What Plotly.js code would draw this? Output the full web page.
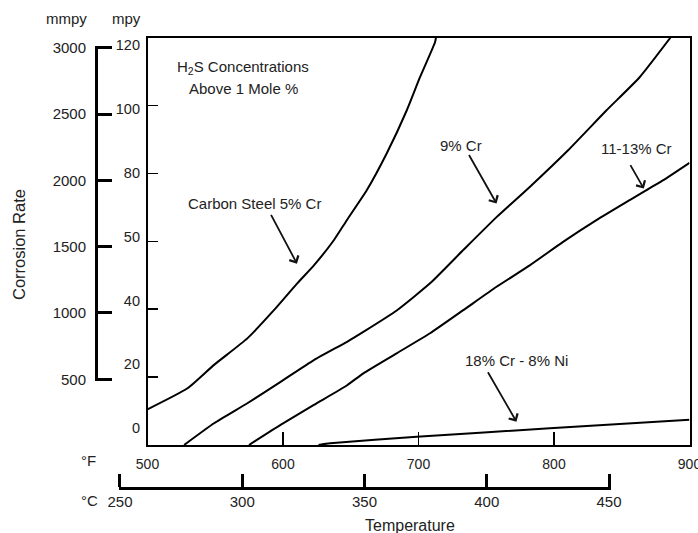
<!DOCTYPE html>
<html>
<head>
<meta charset="utf-8">
<script src="https://cdn.plot.ly/plotly-3.0.1.min.js"></script>
<style>html,body{margin:0;padding:0;background:#fff;}#chart{width:698px;height:533px;}</style>
</head>
<body>
<div id="chart"></div>
<script>
// ---- Tick labels / axis values ----
const tempFTicks = [500, 600, 700, 800, 900];
const tempCTicks = [250, 300, 350, 400, 450];
const mmpyTicks = [500, 1000, 1500, 2000, 2500, 3000];
const mpyTicks = [0, 20, 40, 60, 80, 100, 120];
const mpyTickText = ['0', '20', '40', '50', '80', '100', '120'];

// ---- Series (temperature °F, corrosion rate mpy) ----
const csF   = [500, 529.5, 549.1, 573.7, 593.3, 610.5, 622.8, 637.5, 647.1, 661.8, 676.6, 691.3, 701.1, 712.2, 712.9];
const csMpy = [10.5, 16.7, 23.6, 31.4, 39.7, 47.6, 52.9, 60.3, 66.2, 75.0, 85.9, 98.5, 108.3, 118.6, 120];

const cr9F   = [527.0, 549.1, 573.7, 598.2, 622.8, 647.3, 659.3, 683.9, 708.5, 733.0, 757.6, 782.1, 810.4, 838.6, 863.2, 886.0];
const cr9Mpy = [0, 6.4, 12.3, 18.6, 25.0, 30.4, 33.3, 39.6, 47.6, 57.4, 67.1, 76.0, 86.8, 98.5, 108.3, 120];

const cr11F   = [574.9, 598.2, 622.8, 647.3, 659.3, 683.9, 708.5, 733.0, 757.6, 782.1, 806.7, 831.3, 855.8, 880.3, 900];
const cr11Mpy = [0, 5.9, 11.8, 17.6, 21.1, 27.0, 32.9, 39.7, 46.6, 52.9, 59.8, 66.2, 72.1, 77.9, 83.1];

const cr18F   = [626.2, 634.8, 698.7, 796.9, 900];
const cr18Mpy = [0, 0.5, 2.4, 4.9, 7.4];

const W = 698, H = 533;
const FONT = 'Liberation Sans, Arial, Helvetica, sans-serif';
const TXT = '#222';

function line(x, y, name) {
  return {x: x, y: y, name: name, type: 'scatter', mode: 'lines',
          line: {color: '#000', width: 2, shape: 'spline', smoothing: 0.5},
          xaxis: 'x', yaxis: 'y', hoverinfo: 'skip'};
}
function holder(xa, ya) {
  // empty trace so that the secondary scale axes get drawn
  return {x: [null], y: [null], type: 'scatter', mode: 'lines', xaxis: xa, yaxis: ya,
          hoverinfo: 'skip', showlegend: false};
}

const data = [
  line(csF, csMpy, 'Carbon Steel 5% Cr'),
  line(cr9F, cr9Mpy, '9% Cr'),
  line(cr11F, cr11Mpy, '11-13% Cr'),
  line(cr18F, cr18Mpy, '18% Cr - 8% Ni'),
  holder('x2', 'y'),
  holder('x', 'y2'),
  holder('x', 'y3')
];

function pap(px, py, text, extra) {
  return Object.assign({x: px / W, y: (H - py) / H, xref: 'paper', yref: 'paper', text: text,
    showarrow: false, xanchor: 'center', yanchor: 'middle', font: {size: 15, color: TXT}}, extra || {});
}
function lab(x, y, text, extra) {
  return Object.assign({x: x, y: y, xref: 'x', yref: 'y', text: text, showarrow: false,
    xanchor: 'center', yanchor: 'middle', font: {size: 15, color: TXT}}, extra || {});
}
function arrow(x, y, ax, ay) {
  return {x: x, y: y, xref: 'x', yref: 'y', text: '', showarrow: true, ax: ax, ay: ay,
    arrowhead: 4, arrowsize: 1.1, arrowwidth: 1.8, arrowcolor: '#111', standoff: 0};
}

const annotations = [
  lab(570.7, 111.2, 'H<sub>2</sub>S Concentrations'),
  lab(571.1, 105.0, 'Above 1 Mole %'),
  lab(578.6, 71.2, 'Carbon Steel 5% Cr'),
  lab(731.3, 88.2, '9% Cr'),
  lab(860.6, 87.4, '11-13% Cr'),
  lab(772.6, 24.8, '18% Cr - 8% Ni'),
  arrow(610.3, 53.4, -26.7, -50.3),
  arrow(757.6, 71.1, -28.4, -50),
  arrow(866.3, 75.5, -14.3, -25),
  arrow(772.3, 6.85, -29.4, -51),
  pap(66.5, 18.5, 'mmpy'),
  pap(126.7, 18.5, 'mpy'),
  pap(88, 460, '°F'),
  pap(89, 500, '°C'),
  pap(19, 245, 'Corrosion Rate', {textangle: -90, font: {size: 16.5, color: TXT}}),
  pap(410, 525, 'Temperature', {font: {size: 16, color: TXT}})
];

const layout = {
  width: W, height: H,
  margin: {l: 0, r: 0, t: 0, b: 0, pad: 0},
  paper_bgcolor: '#fff', plot_bgcolor: 'rgba(0,0,0,0)',
  showlegend: false,
  font: {family: FONT, size: 15, color: TXT},
  xaxis: {domain: [147.5 / W, 689.5 / W], range: [500, 900], anchor: 'y',
    showline: true, mirror: true, linewidth: 2, linecolor: '#000',
    ticks: 'inside', ticklen: 13, tickwidth: 1.5, tickcolor: '#000',
    tickvals: tempFTicks, ticktext: tempFTicks.map(String), tickfont: {size: 14, color: TXT},
    ticklabelstandoff: 5, ticklabeloverflow: 'allow', showgrid: false, zeroline: false},
  yaxis: {domain: [(H - 445) / H, (H - 37.5) / H], range: [0, 120], anchor: 'x',
    showline: true, mirror: true, linewidth: 2, linecolor: '#000',
    ticks: 'inside', ticklen: 10, tickwidth: 1.5, tickcolor: '#000',
    tickvals: mpyTicks, showticklabels: false, showgrid: false, zeroline: false},
  yaxis2: {domain: [(H - 380.6) / H, (H - 46.4) / H], range: [490, 3010], anchor: 'free',
    position: 96 / W, side: 'left', visible: true,
    showline: true, linewidth: 3, linecolor: '#000',
    ticks: 'inside', ticklen: 14, tickwidth: 3, tickcolor: '#000',
    tickvals: mmpyTicks, ticktext: mmpyTicks.map(String), tickfont: {size: 15, color: TXT},
    ticklabelstandoff: 6, ticklabeloverflow: 'allow', showgrid: false, zeroline: false},
  yaxis3: {domain: [(H - 428.3) / H, (H - 45) / H], range: [0, 120], anchor: 'free',
    position: 140 / W, side: 'left', visible: true,
    showline: false, ticks: '', tickvals: mpyTicks, ticktext: mpyTickText,
    tickfont: {size: 14.5, color: TXT}, ticklabeloverflow: 'allow', showgrid: false, zeroline: false},
  xaxis2: {domain: [118.5 / W, 610.5 / W], range: [249.4, 450.6], anchor: 'free',
    position: (H - 488) / H, side: 'bottom', visible: true,
    showline: true, linewidth: 3, linecolor: '#000',
    ticks: 'inside', ticklen: 13, tickwidth: 3, tickcolor: '#000',
    tickvals: tempCTicks, ticktext: tempCTicks.map(String), tickfont: {size: 15, color: TXT},
    ticklabelstandoff: -1, ticklabeloverflow: 'allow', showgrid: false, zeroline: false},
  annotations: annotations
};

Plotly.newPlot('chart', data, layout, {staticPlot: true, displayModeBar: false});
</script>
</body>
</html>
